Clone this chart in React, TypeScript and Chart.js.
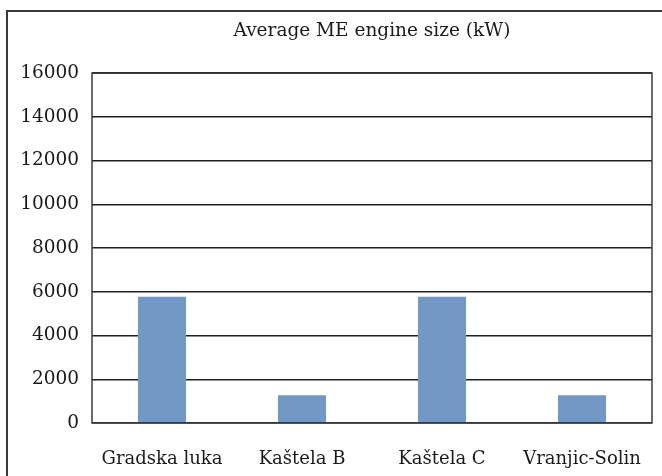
import React, { useEffect, useRef } from "react";
import { Chart, registerables } from "chart.js";

Chart.register(...registerables);

const categories = ["Gradska luka", "Kaštela B", "Kaštela C", "Vranjic-Solin"];
const values = [5780, 1270, 5780, 1270];
const yTicks = [0, 2000, 4000, 6000, 8000, 10000, 12000, 14000, 16000];
const titleText = "Average ME engine size (kW)";

const FONT = "'DejaVu Serif', serif";

export default function App() {
  const ref = useRef<HTMLCanvasElement | null>(null);

  useEffect(() => {
    if (!ref.current) return;
    const borderPlugin = {
      id: "plotBorder",
      afterDraw(chart: any) {
        const { ctx, chartArea } = chart;
        ctx.save();
        ctx.strokeStyle = "#3c3c3c";
        ctx.lineWidth = 1.5;
        ctx.strokeRect(chartArea.left, chartArea.top, chartArea.right - chartArea.left, chartArea.bottom - chartArea.top);
        ctx.restore();
      },
    };
    const chart = new Chart(ref.current, {
      type: "bar",
      data: {
        labels: categories,
        datasets: [
          {
            data: values,
            backgroundColor: "#7299c6",
            borderWidth: 0,
            barPercentage: 0.343,
            categoryPercentage: 1,
          },
        ],
      },
      options: {
        animation: false,
        responsive: false,
        maintainAspectRatio: false,
        layout: { padding: { top: 0, left: 0, right: 10, bottom: 0 } },
        plugins: {
          legend: { display: false },
          tooltip: { enabled: false },
          title: {
            display: true,
            fullSize: false,
            text: titleText,
            color: "#1a1a1a",
            font: { family: FONT, size: 18.5, weight: "normal" },
            padding: { top: 20, bottom: 31 },
          },
        },
        scales: {
          x: {
            grid: { display: false },
            border: { display: false },
            ticks: {
              color: "#1a1a1a",
              font: { family: FONT, size: 18 },
              padding: 18,
              maxRotation: 0,
              autoSkip: false,
            },
            afterFit(scale: any) {
              scale.height = 53;
            },
          },
          y: {
            min: 0,
            max: 16000,
            afterBuildTicks(scale: any) {
              scale.ticks = yTicks.map((v) => ({ value: v }));
            },
            grid: { color: "#1e1e1e", lineWidth: 1.5, drawTicks: false },
            border: { display: false },
            ticks: {
              color: "#1a1a1a",
              font: { family: FONT, size: 18.5 },
              padding: 13,
              callback: (v: any) => String(v),
            },
            afterFit(scale: any) {
              scale.width = 92;
            },
          },
        },
      },
      plugins: [borderPlugin],
    });
    return () => chart.destroy();
  }, []);

  return (
    <div style={{ position: "fixed", left: 0, top: 0, width: 662, height: 476, overflow: "hidden", background: "#fff" }}>
      <div
        style={{
          position: "absolute",
          left: 6,
          top: 10,
          width: 700,
          height: 520,
          border: "2px solid #3a3a3a",
          boxSizing: "border-box",
        }}
      />
      <canvas ref={ref} width={662} height={476} style={{ position: "absolute", left: 0, top: 0 }} />
    </div>
  );
}
